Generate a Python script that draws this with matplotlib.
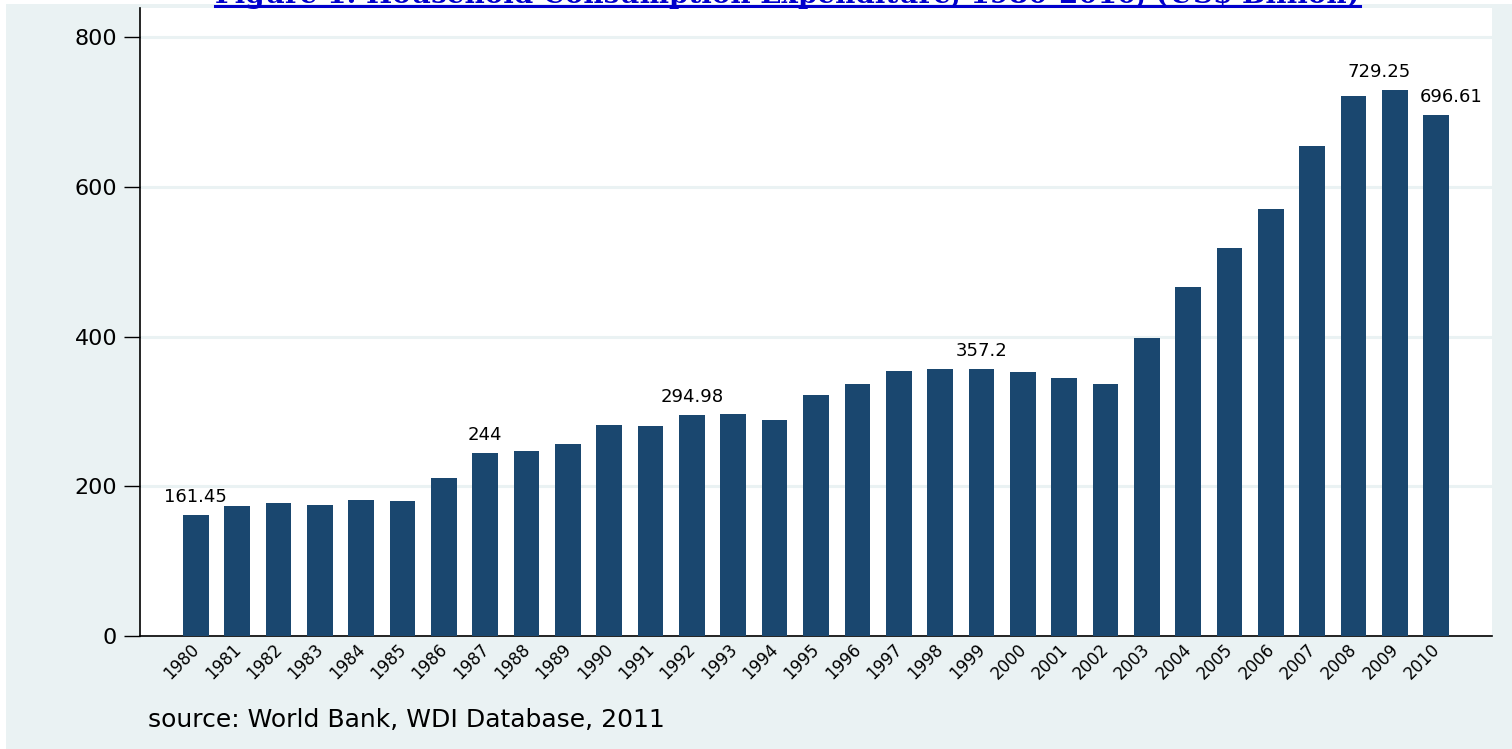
import matplotlib
matplotlib.use("Agg")
import matplotlib.pyplot as plt
from matplotlib.lines import Line2D
from matplotlib.patches import Rectangle
from matplotlib.transforms import ScaledTranslation

OUT_FILE = "out.png"

# Household consumption expenditure, US$ billion
YEARS = list(range(1980, 2011))
VALUES = [161.45, 173.6, 178.0, 175.4, 181.7, 180.3, 211.0, 244.0, 247.0, 256.7,
          282.0, 281.0, 294.98, 296.4, 288.8, 321.8, 336.5, 354.3, 357.0, 357.2,
          352.5, 344.5, 336.5, 398.0, 466.0, 519.0, 570.0, 654.7, 722.0, 729.25,
          696.61]
LABELED_YEARS = [1980, 1987, 1992, 1999, 2009, 2010]
LABEL_TEXTS = ["161.45", "244", "294.98", "357.2", "729.25", "696.61"]

TITLE = "Figure 1: Household Consumption Expenditure, 1980-2010, (US$ Billion)"
SOURCE = "source: World Bank, WDI Database, 2011"

BG = "#eaf2f3"
BAR = "#1a476f"

W, H = 1512, 749


def main():
    fig = plt.figure(figsize=(W / 100, H / 100), dpi=100)
    fig.patch.set_facecolor("white")
    # light outer panel (thin white margin on the left/top as in the source)
    fig.patches.append(Rectangle((6 / W, 0), 1, 1 - 4 / H, transform=fig.transFigure,
                                 facecolor=BG, edgecolor="none", zorder=-10))

    ax = fig.add_axes([140 / W, (H - 636) / H, (1492 - 140) / W, (636 - 8) / H])
    ax.set_facecolor("white")

    x = list(range(len(YEARS)))
    ax.bar(x, VALUES, width=0.62, color=BAR, zorder=3)

    ax.set_xlim(-1.35, len(YEARS) - 1 + 1.35)
    ax.set_ylim(0, 839)

    ax.set_yticks([0, 200, 400, 600, 800])
    ax.yaxis.grid(True, color=BG, linewidth=2.2, zorder=0)
    ax.set_axisbelow(True)
    ax.tick_params(axis="y", length=11.5, width=1, pad=5, labelsize=16)

    ax.set_xticks(x)
    ax.set_xticklabels([str(y) for y in YEARS], rotation=45, ha="right",
                       rotation_mode="anchor", fontsize=12)
    ax.tick_params(axis="x", length=0, pad=3)
    nudge = ScaledTranslation(-4 / 72, 0, fig.dpi_scale_trans)
    for lab in ax.get_xticklabels():
        lab.set_transform(lab.get_transform() + nudge)

    for side in ["top", "right"]:
        ax.spines[side].set_visible(False)
    for side in ["left", "bottom"]:
        ax.spines[side].set_color("black")
        ax.spines[side].set_linewidth(1.2)

    # value labels, two of them nudged sideways like the original
    shifts = {2009: -11.5, 2010: 11}
    for yr, txt in zip(LABELED_YEARS, LABEL_TEXTS):
        i = YEARS.index(yr)
        ax.annotate(txt, (i, VALUES[i]), xytext=(shifts.get(yr, 0), 13),
                    textcoords="offset points", ha="center", va="center",
                    fontsize=13, color="black", zorder=4)

    fig.text(148 / W, 1 - 720 / H, SOURCE, fontsize=18, ha="left", va="center")

    # title sits mostly above the canvas edge, only its underline is visible
    title = fig.text(215 / W, 1 - 3 / H, TITLE, fontsize=20, fontweight="bold",
                     family="DejaVu Serif", color="#0000cc", ha="left", va="baseline",
                     zorder=20)
    renderer = fig.canvas.get_renderer()
    bb = title.get_window_extent(renderer)
    fig.add_artist(Line2D([bb.x0 / W, bb.x1 / W], [1 - 6 / H, 1 - 6 / H],
                          transform=fig.transFigure, color="#0000cc", linewidth=2.2,
                          zorder=21))

    fig.savefig(OUT_FILE, dpi=100, facecolor=fig.get_facecolor())


if __name__ == "__main__":
    main()
